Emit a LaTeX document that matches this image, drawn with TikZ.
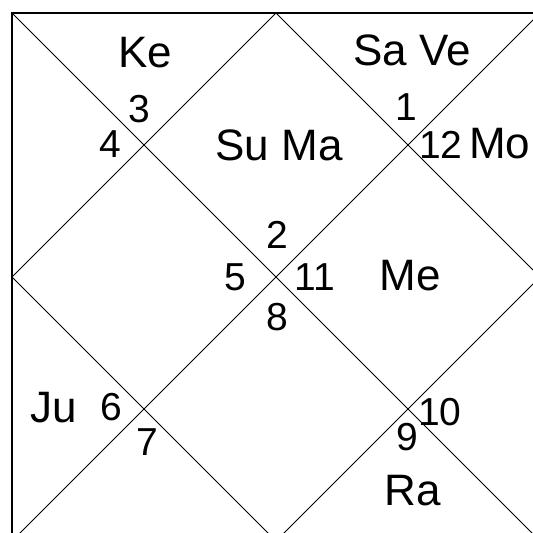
\documentclass[tikz,border=0pt]{standalone}
\usepackage{fontspec}
\setmainfont{Liberation Sans}
\begin{document}
\begin{tikzpicture}[x=1pt,y=-1pt,
  lbl/.style={inner sep=0pt,anchor=base,font=\fontsize{44}{50}\selectfont},
  num/.style={inner sep=0pt,anchor=base,font=\fontsize{39}{44}\selectfont},
  border/.style={line width=1.3pt},
  inner/.style={line width=0.8pt}]
\useasboundingbox (0,0) rectangle (533,533);
\clip (0,0) rectangle (533,533);
% corners and midpoints
\coordinate (tl) at (12,13);
\coordinate (tr) at (540,13);
\coordinate (bl) at (12,541);
\coordinate (br) at (540,541);
\coordinate (tm) at (276,13);
\coordinate (bm) at (276,541);
\coordinate (lm) at (12,277);
\coordinate (rm) at (540,277);
\draw[border] (tl) -- (tr) -- (br) -- (bl) -- cycle;
\draw[inner] (tl) -- (br);
\draw[inner] (tr) -- (bl);
\draw[inner] (tm) -- (rm) -- (bm) -- (lm) -- cycle;
% labels
\node[lbl] (ke) at (145,67) {Ke};
\node[lbl] (save) at (412,65) {Sa Ve};
\node[num] (n3) at (139,122) {3};
\node[num] (n4) at (110,157) {4};
\node[lbl] (suma) at (279,160) {Su Ma};
\node[num] (n1) at (406,120) {1};
\node[num,anchor=base west] (n12) at (419,158) {12};
\node[lbl,anchor=base west] (mo) at (469,158) {Mo};
\node[num] (n2) at (277,248) {2};
\node[num] (n5) at (235,290) {5};
\node[num] (n11) at (315,290) {11};
\node[lbl] (me) at (410,290) {Me};
\node[num] (n8) at (277.5,330) {8};
\node[lbl] (ju) at (54,422) {Ju};
\node[num] (n6) at (111,420) {6};
\node[num] (n7) at (147,455) {7};
\node[num,anchor=base west] (n10) at (418,425) {10};
\node[num] (n9) at (407.5,450) {9};
\node[lbl] (ra) at (413,505) {Ra};
\end{tikzpicture}
\end{document}
